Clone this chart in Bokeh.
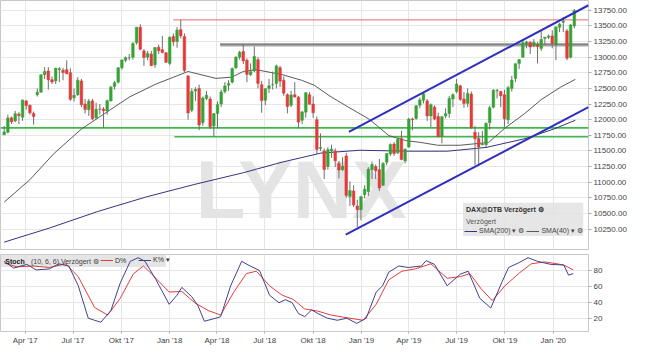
import pandas as pd
from bokeh.plotting import figure
from bokeh.layouts import column
from bokeh.models import (Range1d, FixedTicker, PrintfTickFormatter, Legend, LegendItem,
                          BoxAnnotation, Label)
from bokeh.core.properties import value
from bokeh.embed import file_html
from bokeh.resources import INLINE

# ---------------- data (weekly DAX candles) ----------------
first_week = "2017-02-20"
open_ = [11760, 11800, 12030, 11980, 12090, 12040, 12300, 12230, 12100, 12400,
         12440, 12720, 12780, 12640, 12620, 12800, 12790, 12800, 12750, 12350,
         12400, 12620, 12250, 12160, 12300, 12030, 12170, 12170, 12140, 12300,
         12530, 12600, 12830, 12950, 12990, 13000, 13230, 13480, 13100, 13000,
         13050, 12880, 13160, 13120, 13070, 12900, 13330, 13250, 13440, 13330,
         12700, 12150, 12460, 12500, 11950, 12340, 12330, 11900, 12100, 12250,
         12450, 12550, 12600, 12830, 13000, 13090, 12950, 12720, 12780, 12960,
         12560, 12310, 12500, 12560, 12580, 12830, 12630, 12400, 12230, 12400,
         12360, 11990, 12120, 12400, 12250, 12000, 11540, 11500, 11250, 11500,
         11500, 11300, 11200, 11420, 10770, 10860, 10620, 10560, 10800, 10850,
         11200, 11250, 11200, 10950, 11320, 11450, 11610, 11470, 11700, 11340,
         11560, 12010, 12020, 12230, 12310, 12300, 12060, 12200, 12050, 11730,
         12060, 12100, 12330, 12450, 12540, 12330, 12260, 12410, 11800, 11700,
         11600, 11600, 11950, 12200, 12460, 12450, 12400, 12000, 12500, 12660,
         12900, 13000, 13210, 13240, 13180, 13200, 13140, 13300, 13320, 13340,
         13200, 13480, 13560, 13420, 13000, 13500]
high_ = [11900, 12080, 12050, 12140, 12120, 12320, 12310, 12240, 12130, 12500,
         12720, 12840, 12840, 12690, 12830, 12840, 12830, 12950, 12820, 12500,
         12680, 12650, 12330, 12330, 12330, 12270, 12250, 12200, 12320, 12540,
         12620, 12840, 12960, 13010, 13050, 13240, 13480, 13525, 13130, 13100,
         13100, 13160, 13200, 13340, 13080, 13330, 13380, 13480, 13596, 13380,
         12710, 12500, 12520, 12560, 12370, 12460, 12370, 12100, 12290, 12480,
         12600, 12630, 12830, 13010, 13100, 13205, 12980, 12900, 13170, 13000,
         12620, 12500, 12650, 12770, 12880, 12860, 12690, 12420, 12460, 12600,
         12380, 12140, 12440, 12440, 12370, 12050, 11780, 11540, 11560, 11600,
         11540, 11340, 11400, 11470, 11010, 10950, 10720, 10780, 10950, 11240,
         11330, 11280, 11370, 11320, 11460, 11620, 11640, 11700, 11820, 11540,
         12030, 12030, 12230, 12350, 12440, 12330, 12260, 12230, 12110, 12060,
         12180, 12380, 12420, 12650, 12560, 12440, 12500, 12450, 11900, 11800,
         11820, 11960, 12220, 12490, 12490, 12460, 12480, 12540, 12700, 12900,
         12970, 13290, 13260, 13250, 13290, 13240, 13420, 13320, 13360, 13430,
         13490, 13550, 13640, 13450, 13530, 13770]
low_ = [11750, 11780, 11930, 11960, 11930, 11980, 12160, 12080, 11920, 12370,
        12430, 12650, 12480, 12570, 12570, 12600, 12630, 12730, 12300, 12290,
        12380, 12200, 12100, 12060, 11990, 12010, 12080, 11868, 12080, 12290,
        12480, 12580, 12800, 12920, 12950, 12960, 13200, 13110, 12860, 12950,
        12860, 12830, 13050, 13060, 12910, 12870, 13180, 13150, 13300, 12760,
        12000, 12120, 12300, 11830, 11900, 12310, 11850, 11726, 11860, 12200,
        12420, 12460, 12580, 12810, 12960, 12890, 12600, 12700, 12760, 12500,
        12110, 12230, 12430, 12480, 12500, 12520, 12380, 12100, 12200, 12350,
        11860, 11930, 12030, 12240, 12030, 11450, 11500, 11050, 11200, 11390,
        11240, 11060, 11180, 10750, 10620, 10600, 10279, 10390, 10740, 10780,
        11050, 11050, 10860, 10940, 11270, 11420, 11420, 11450, 11350, 11300,
        11560, 11830, 12000, 12180, 12260, 11980, 11880, 11990, 11720, 11620,
        12020, 12030, 12200, 12420, 12300, 12190, 12200, 11850, 11270, 11266,
        11590, 11560, 11840, 12180, 12340, 12200, 11880, 11930, 12450, 12600,
        12810, 12990, 13140, 13050, 13160, 12900, 13100, 13200, 13290, 13140,
        12950, 13400, 13400, 12950, 12980, 13460]
close_ = [11804, 12027, 11963, 12095, 12064, 12313, 12225, 12109, 12049, 12438,
          12717, 12770, 12638, 12602, 12823, 12816, 12753, 12733, 12325, 12389,
          12631, 12240, 12163, 12298, 12014, 12165, 12168, 12142, 12304, 12519,
          12592, 12829, 12956, 12992, 12991, 13218, 13479, 13127, 12994, 13060,
          12861, 13153, 13104, 13073, 12918, 13320, 13245, 13434, 13340, 12785,
          12107, 12452, 12483, 11914, 12346, 12390, 11886, 12097, 12241, 12442,
          12540, 12580, 12820, 13001, 13078, 12938, 12724, 12767, 13011, 12580,
          12306, 12496, 12541, 12561, 12860, 12616, 12424, 12211, 12394, 12364,
          11960, 12124, 12431, 12247, 12111, 11524, 11554, 11201, 11519, 11529,
          11341, 11193, 11257, 10788, 10866, 10634, 10559, 10767, 10887, 11205,
          11282, 11181, 10907, 11300, 11457, 11602, 11458, 11686, 11364, 11526,
          12010, 11999, 12222, 12315, 12413, 12060, 12238, 12011, 11727, 12045,
          12096, 12340, 12399, 12569, 12323, 12260, 12419, 11872, 11694, 11563,
          11612, 11939, 12192, 12469, 12468, 12381, 12013, 12512, 12634, 12895,
          12961, 13229, 13242, 13164, 13236, 13167, 13283, 13319, 13337, 13219,
          13483, 13526, 13577, 12982, 13514, 13744]

sma40_dates = ["2017-02-20", "2017-04-10", "2017-05-26", "2017-07-17", "2017-09-05",
               "2017-10-17", "2017-12-06", "2018-02-05", "2018-03-30", "2018-04-29",
               "2018-05-21", "2018-06-14", "2018-08-03", "2018-09-09", "2018-10-03",
               "2018-11-04", "2018-12-05", "2019-01-16", "2019-02-22", "2019-03-26",
               "2019-04-24", "2019-05-26", "2019-07-07", "2019-08-31", "2019-10-01",
               "2019-11-08", "2019-12-09", "2020-01-15", "2020-02-12"]
sma40 = [10680, 11040, 11460, 11850, 12130, 12365, 12570, 12770, 12660, 12680,
         12770, 12800, 12720, 12630, 12550, 12365, 12210, 12005, 11745, 11665,
         11635, 11590, 11590, 11635, 11865, 12100, 12320, 12520, 12645]

sma200_dates = ["2017-02-20", "2017-05-17", "2017-08-17", "2017-11-18", "2018-02-18",
                "2018-05-21", "2018-08-03", "2018-10-16", "2018-12-29", "2019-03-31",
                "2019-06-13", "2019-08-26", "2019-11-08", "2020-01-02", "2020-02-12"]
sma200 = [10040, 10265, 10530, 10765, 10965, 11150, 11320, 11465, 11510, 11495,
          11495, 11555, 11695, 11850, 11990]

stoch_k_dates = ["2017-02-20", "2017-03-10", "2017-04-04", "2017-04-22", "2017-05-17",
                 "2017-06-04", "2017-06-23", "2017-07-11", "2017-07-30", "2017-08-11",
                 "2017-08-23", "2017-09-11", "2017-09-29", "2017-10-18", "2017-11-02",
                 "2017-11-15", "2017-12-06", "2017-12-31", "2018-01-15", "2018-01-24",
                 "2018-02-12", "2018-02-24", "2018-03-08", "2018-03-30", "2018-04-08",
                 "2018-04-27", "2018-05-18", "2018-06-03", "2018-06-21", "2018-07-10",
                 "2018-07-28", "2018-08-09", "2018-08-22", "2018-09-03", "2018-09-15",
                 "2018-09-28", "2018-10-10", "2018-10-28", "2018-11-16", "2018-12-04",
                 "2018-12-23", "2019-01-10", "2019-01-29", "2019-02-10", "2019-02-22",
                 "2019-03-13", "2019-03-31", "2019-04-25", "2019-05-04", "2019-05-20",
                 "2019-06-13", "2019-07-08", "2019-07-23", "2019-08-14", "2019-09-04",
                 "2019-09-26", "2019-10-08", "2019-10-27", "2019-11-14", "2019-12-02",
                 "2019-12-27", "2020-01-21", "2020-01-30", "2020-02-08"]
stoch_k = [91.5, 83, 87.7, 80.8, 82, 88.4, 85.7, 61, 20.6, 18,
           15.6, 30, 64.7, 91.5, 96, 91.5, 68.5, 37.9, 49.3, 59,
           47.4, 35.9, 16.8, 20.6, 22.5, 61, 91.5, 85.7, 80, 49.3,
           39.8, 43.6, 40, 26.4, 22.5, 31, 26.4, 20.6, 18, 20.6,
           14.1, 20.6, 53.2, 60.8, 78, 85.7, 83.8, 85.7, 92.3, 87.7,
           61, 75.4, 79.2, 45.5, 33.3, 66.6, 83.8, 89.6, 96, 91.5,
           87.7, 86.9, 74.3, 76.2]

stoch_d_dates = ["2017-02-20", "2017-03-16", "2017-04-16", "2017-05-17", "2017-06-17",
                 "2017-07-11", "2017-08-11", "2017-09-05", "2017-09-29", "2017-10-24",
                 "2017-11-12", "2017-11-30", "2017-12-31", "2018-01-24", "2018-02-18",
                 "2018-03-15", "2018-04-08", "2018-05-03", "2018-05-27", "2018-06-15",
                 "2018-07-10", "2018-08-03", "2018-08-24", "2018-09-15", "2018-10-10",
                 "2018-11-04", "2018-11-28", "2019-01-04", "2019-01-29", "2019-02-22",
                 "2019-03-19", "2019-04-13", "2019-05-13", "2019-06-13", "2019-07-08",
                 "2019-07-26", "2019-08-17", "2019-09-07", "2019-10-01", "2019-10-27",
                 "2019-11-20", "2019-12-15", "2020-01-08", "2020-01-21", "2020-02-08"]
stoch_d = [89.6, 84.6, 85.7, 83.8, 88.4, 72.3, 34, 24.5, 45.5, 76,
           85.7, 74.2, 53.2, 53.9, 39.8, 30.2, 24.5, 53.2, 76.2, 79.2,
           61, 49.3, 44, 32.1, 29.4, 24.5, 21.8, 18, 37.9, 68.5,
           79.2, 82, 88.4, 70.4, 72.3, 76.2, 57, 42.5, 61, 76.2,
           88.4, 90.8, 88.4, 86.9, 80.8]

red_level, red_from = 13596, "2018-01-08"
gray_level, gray_from = 13200, "2018-04-07"
green_upper_level, green_upper_from = 11868, "2017-02-13"
green_lower_level, green_lower_from = 11727, "2018-01-10"
channel_upper_dates = ["2018-12-08", "2020-03-08"]
channel_upper_vals = [11805, 13830]
channel_lower_dates = ["2018-12-02", "2020-03-08"]
channel_lower_vals = [10160, 12200]

quarter_dates = ["2017-04-01", "2017-07-01", "2017-10-01", "2018-01-01", "2018-04-01",
                 "2018-07-01", "2018-10-01", "2019-01-01", "2019-04-01", "2019-07-01",
                 "2019-10-01", "2020-01-01"]
quarter_labels = ["Apr '17", "Jul '17", "Okt '17", "Jan '18", "Apr '18", "Jul '18",
                  "Okt '18", "Jan '19", "Apr '19", "Jul '19", "Okt '19", "Jan '20"]
price_ticks = [10250, 10500, 10750, 11000, 11250, 11500, 11750, 12000, 12250,
               12500, 12750, 13000, 13250, 13500, 13750]
stoch_ticks = [20, 40, 60, 80]

# ---------------- helpers ----------------
def ms(s):
    return pd.Timestamp(s).value / 1e6

X_START, X_END = "2017-02-13", "2020-03-08"
xr = Range1d(start=ms(X_START), end=ms(X_END))
q_ms = [ms(d) for d in quarter_dates]
FONT = "Liberation Sans"
GREEN, RED = "#35a335", "#e23b3b"
GRID = "#e6e6e6"

weeks = pd.date_range(first_week, periods=len(close_), freq="7D")
up = [c >= o for o, c in zip(open_, close_)]
body_top = [max(o, c) for o, c in zip(open_, close_)]
body_bot = [min(o, c) for o, c in zip(open_, close_)]
colors = [GREEN if u else RED for u in up]


def style_common(p):
    p.outline_line_color = "#c8c8c8"
    p.background_fill_color = "white"
    p.border_fill_color = "white"
    p.xgrid.ticker = FixedTicker(ticks=q_ms)
    p.xgrid.grid_line_color = GRID
    p.ygrid.grid_line_color = GRID
    ax = p.yaxis[0]
    ax.axis_line_color = None
    ax.major_tick_out = 3
    ax.major_tick_in = 0
    ax.major_tick_line_color = "#aaaaaa"
    ax.minor_tick_line_color = None
    ax.major_label_standoff = 2
    ax.major_label_text_font = FONT
    ax.major_label_text_font_size = "8px"
    ax.major_label_text_color = "#444444"


# ---------------- main panel ----------------
main = figure(width=629, height=250, x_axis_type="datetime", x_axis_location=None,
              y_axis_location="right", x_range=xr, y_range=Range1d(9922, 13906),
              output_backend="svg", toolbar_location=None,
              min_border_left=0, min_border_right=40, min_border_top=0, min_border_bottom=1)
style_common(main)
main.yaxis.ticker = FixedTicker(ticks=price_ticks)
main.yaxis.formatter = PrintfTickFormatter(format="%.2f")
main.ygrid.ticker = FixedTicker(ticks=price_ticks)

# watermark
main.text(x=[ms("2018-09-08")], y=[10880], text=["LYNX"], text_font=value("Liberation Sans"),
          text_font_style="bold", text_font_size="82px", text_color="#e4e4e4",
          text_align="center", text_baseline="middle")

# horizontal levels
main.segment(x0=[ms(green_upper_from)], y0=[green_upper_level], x1=[ms(X_END)], y1=[green_upper_level],
             line_color="#3cb94a", line_width=1.6)
main.segment(x0=[ms(green_lower_from)], y0=[green_lower_level], x1=[ms(X_END)], y1=[green_lower_level],
             line_color="#3cb94a", line_width=1.6)
main.segment(x0=[ms(gray_from)], y0=[gray_level], x1=[ms(X_END)], y1=[gray_level],
             line_color="#a8a8a8", line_width=3.5)
main.segment(x0=[ms(gray_from)], y0=[gray_level], x1=[ms(X_END)], y1=[gray_level],
             line_color="#808080", line_width=1)
main.segment(x0=[ms(red_from)], y0=[red_level], x1=[ms(X_END)], y1=[red_level],
             line_color="#e66a6a", line_width=1)

# moving averages
r200 = main.line(x=pd.to_datetime(sma200_dates), y=sma200, line_color="#34347e", line_width=1)
r40 = main.line(x=pd.to_datetime(sma40_dates), y=sma40, line_color="#5a5a5a", line_width=1)

# candles
main.segment(x0=weeks, y0=low_, x1=weeks, y1=high_, line_color="#6e6e6e", line_width=1)
main.vbar(x=weeks, width=5 * 86400000, top=body_top, bottom=body_bot,
          fill_color=colors, line_color=colors, line_width=0.5)

# trend channel
main.line(x=pd.to_datetime(channel_upper_dates), y=channel_upper_vals, line_color="#2f2fbf", line_width=2)
main.line(x=pd.to_datetime(channel_lower_dates), y=channel_lower_vals, line_color="#2f2fbf", line_width=2)

# legend box
main.add_layout(BoxAnnotation(left=ms("2019-07-13"), right=ms("2020-02-27"), bottom=10140, top=10669,
                              fill_color="#e2e2e2", fill_alpha=0.85, line_color=None))
main.add_layout(Label(x=ms("2019-07-19"), y=10560, text="DAX@DTB Verzögert ⚙", text_font=FONT,
                      text_font_style="bold", text_font_size="7px", text_color="#333333",
                      text_baseline="middle"))
main.add_layout(Label(x=ms("2019-07-19"), y=10372, text="Verzögert", text_font=FONT,
                      text_font_size="7px", text_color="#555555", text_baseline="middle"))
leg = Legend(items=[LegendItem(label="SMA(200) ▾ ⚙", renderers=[r200]),
                    LegendItem(label="SMA(40) ▾ ⚙", renderers=[r40])],
             orientation="horizontal", location=(464, 14), label_text_font=FONT,
             label_text_font_size="7px", label_text_color="#444444", glyph_width=13,
             glyph_height=8, label_height=8, label_standoff=2, spacing=2, padding=0,
             margin=0, background_fill_alpha=0, border_line_alpha=0)
main.add_layout(leg)

# ---------------- stochastic panel ----------------
stoch = figure(width=629, height=97, x_axis_type="datetime", y_axis_location="right",
               x_range=xr, y_range=Range1d(4, 100), output_backend="svg", toolbar_location=None,
               min_border_left=0, min_border_right=40, min_border_top=4, min_border_bottom=14)
style_common(stoch)
stoch.yaxis.ticker = FixedTicker(ticks=stoch_ticks)
stoch.ygrid.ticker = FixedTicker(ticks=stoch_ticks)
xa = stoch.xaxis[0]
xa.ticker = FixedTicker(ticks=q_ms)
xa.major_label_overrides = {q: lab for q, lab in zip(q_ms, quarter_labels)}
xa.axis_line_color = None
xa.major_tick_out = 2
xa.major_tick_in = 0
xa.major_tick_line_color = "#aaaaaa"
xa.minor_tick_line_color = None
xa.major_label_standoff = 2
xa.major_label_text_font = FONT
xa.major_label_text_font_size = "8px"
xa.major_label_text_color = "#444444"

stoch.add_layout(BoxAnnotation(left=ms(X_START), right=ms("2017-12-25"), bottom=84.5, top=100,
                               fill_color="#dedede", fill_alpha=0.8, line_color=None, level="underlay"))
rd = stoch.line(x=pd.to_datetime(stoch_d_dates), y=stoch_d, line_color="#e23e3e", line_width=1)
rk = stoch.line(x=pd.to_datetime(stoch_k_dates), y=stoch_k, line_color="#41418f", line_width=1)
stoch.add_layout(Label(x=ms("2017-02-22"), y=91.8, text="Stoch", text_font=FONT, text_font_style="bold",
                       text_font_size="7px", text_color="#222222", text_baseline="middle"))
stoch.add_layout(Label(x=ms("2017-04-12"), y=91.8, text="(10, 6, 6) Verzögert ⚙", text_font=FONT,
                       text_font_size="7px", text_color="#444444", text_baseline="middle"))
sleg = Legend(items=[LegendItem(label="D%", renderers=[rd]), LegendItem(label="K% ▾", renderers=[rk])],
              orientation="horizontal", location=(100, 67), label_text_font=FONT,
              label_text_font_size="7px", label_text_color="#333333", glyph_width=13,
              glyph_height=8, label_height=8, label_standoff=2, spacing=3, padding=0,
              margin=0, background_fill_alpha=0, border_line_alpha=0)
stoch.add_layout(sleg)

layout = column(main, stoch, spacing=0)
open("out.html", "w").write(file_html(layout, INLINE))
